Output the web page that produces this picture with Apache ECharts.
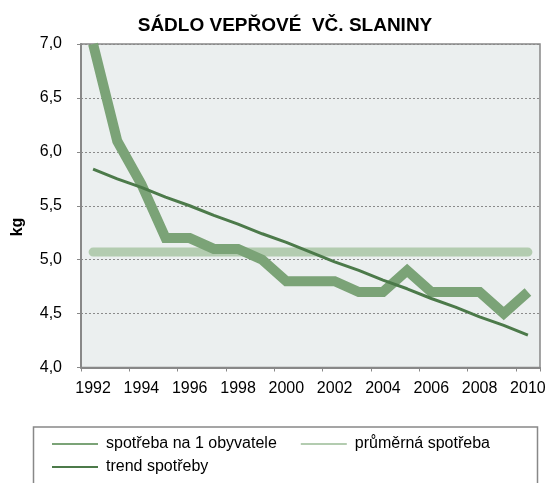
<!DOCTYPE html>
<html>
<head>
<meta charset="utf-8">
<script src="https://cdn.jsdelivr.net/npm/echarts@6/dist/echarts.min.js"></script>
<style>
html,body{margin:0;padding:0;background:#fff;}
#c{width:549px;height:483px;}
</style>
</head>
<body>
<div id="c"></div>
<script>
const titleText = 'SÁDLO VEPŘOVÉ  VČ. SLANINY';
const years = ['1992','1993','1994','1995','1996','1997','1998','1999','2000','2001','2002','2003','2004','2005','2006','2007','2008','2009','2010'];
const consumption = [7.0, 6.1, 5.7, 5.2, 5.2, 5.1, 5.1, 5.0, 4.8, 4.8, 4.8, 4.7, 4.7, 4.9, 4.7, 4.7, 4.7, 4.5, 4.7];
const average = [5.07, 5.07, 5.07, 5.07, 5.07, 5.07, 5.07, 5.07, 5.07, 5.07, 5.07, 5.07, 5.07, 5.07, 5.07, 5.07, 5.07, 5.07, 5.07];
const trend = [5.84, 5.75, 5.67, 5.58, 5.50, 5.41, 5.33, 5.24, 5.16, 5.07, 4.98, 4.90, 4.81, 4.73, 4.64, 4.56, 4.47, 4.39, 4.30];
const seriesNames = ['spotřeba na 1 obyvatele', 'průměrná spotřeba', 'trend spotřeby'];
const yAxisName = 'kg';

const FONT = '"Liberation Sans", Arial, sans-serif';
const cMain = '#7BA377', cAvg = '#B3CCB0', cTrend = '#4C7A4A';

const chart = echarts.init(document.getElementById('c'));
chart.setOption({
  animation: false,
  title: {
    text: titleText, left: 280, top: 11, textAlign: 'center',
    textStyle: { fontFamily: FONT, fontSize: 19, fontWeight: 'bold', color: '#000' }
  },
  grid: {
    left: 81, right: 9, top: 44, bottom: 115.5, show: true,
    backgroundColor: '#EBEFEF', borderColor: '#888', borderWidth: 1.5
  },
  legend: [
    {
      data: [seriesNames[0], seriesNames[1]], left: 47, top: 431, itemGap: 24,
      itemWidth: 46, itemHeight: 2, icon: 'rect',
      textStyle: { fontFamily: FONT, fontSize: 16, color: '#000', padding: [0,0,0,3] }
    },
    {
      data: [seriesNames[2]], left: 47, top: 454,
      itemWidth: 46, itemHeight: 2, icon: 'rect',
      textStyle: { fontFamily: FONT, fontSize: 16, color: '#000', padding: [0,0,0,3] }
    }
  ],
  graphic: [
    { type: 'rect', shape: { x: 33.5, y: 427, width: 504, height: 80 },
      style: { fill: 'none', stroke: '#888', lineWidth: 1.5 }, z: 0 },
    { type: 'text', x: 18, y: 227, rotation: Math.PI / 2,
      style: { text: yAxisName, fontFamily: FONT, fontSize: 16, fontWeight: 'bold', fill: '#000',
               textAlign: 'center', textVerticalAlign: 'middle' } }
  ],
  xAxis: {
    type: 'category', data: years, boundaryGap: true,
    axisLine: { lineStyle: { color: '#888', width: 2 } },
    axisTick: { show: true, length: 4, lineStyle: { color: '#888' } },
    axisLabel: { interval: 1, margin: 13, fontFamily: FONT, fontSize: 16, color: '#000' },
    splitLine: { show: false }
  },
  yAxis: {
    type: 'value', min: 4, max: 7, interval: 0.5,
    axisLine: { show: true, lineStyle: { color: '#888', width: 2 } },
    axisTick: { show: true, length: 4, lineStyle: { color: '#888' } },
    axisLabel: { margin: 19, fontFamily: FONT, fontSize: 16, color: '#000',
                 formatter: v => v.toFixed(1).replace('.', ',') },
    splitLine: { lineStyle: { color: '#8a8a8a', type: [2, 2], width: 1 } }
  },
  series: [
    { name: seriesNames[0], type: 'line', data: consumption, symbol: 'none', clip: true,
      color: cMain, lineStyle: { color: cMain, width: 10, join: 'miter' }, z: 3 },
    { name: seriesNames[1], type: 'line', data: average, symbol: 'none',
      color: cAvg, lineStyle: { color: cAvg, width: 9, cap: 'round' }, z: 2 },
    { name: seriesNames[2], type: 'line', data: trend, symbol: 'none',
      color: cTrend, lineStyle: { color: cTrend, width: 3 }, z: 4 }
  ]
});
</script>
</body>
</html>
